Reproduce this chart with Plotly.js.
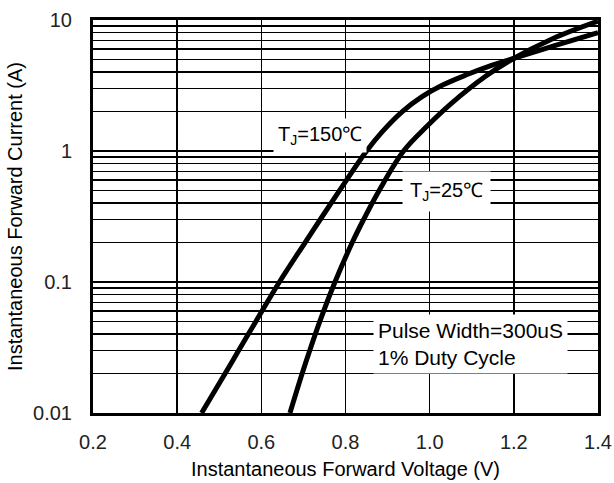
<!DOCTYPE html>
<html>
<head>
<meta charset="utf-8">
<script src="https://cdn.plot.ly/plotly-3.0.1.min.js"></script>
<style>html,body{margin:0;padding:0;background:#fff;}#chart{width:614px;height:483px;}</style>
</head>
<body>
<div id="chart"></div>
<script>
// Forward voltage (V) and forward current (A)
const v150 = [0.458, 0.514, 0.546, 0.587, 0.643, 0.704, 0.740, 0.786, 0.850, 0.887, 0.935, 0.982, 1.032, 1.086, 1.139, 1.192, 1.299, 1.40];
const i150 = [0.01, 0.02, 0.03, 0.05, 0.1, 0.2, 0.3, 0.5, 1.0, 1.4, 2.0, 2.6, 3.2, 3.8, 4.4, 5.0, 6.4, 8.0];
const v25 = [0.668, 0.697, 0.715, 0.739, 0.775, 0.816, 0.843, 0.880, 0.938, 0.994, 1.051, 1.132, 1.193, 1.292, 1.40];
const i25 = [0.01, 0.02, 0.03, 0.05, 0.1, 0.2, 0.3, 0.5, 1.0, 1.55, 2.3, 3.7, 4.95, 7.2, 9.8];
const yTickVals = [0.01, 0.1, 1, 10];
const yTickText = ['0.01', '0.1', '1', '10'];
const xTickVals = [0.2, 0.4, 0.6, 0.8, 1.0, 1.2, 1.4];
const xTickText = ['0.2', '0.4', '0.6', '0.8', '1.0', '1.2', '1.4'];
const label150 = 'T<sub>J</sub>=150℃';
const label25 = 'T<sub>J</sub>=25℃';
const noteText = 'Pulse Width=300uS<br>1% Duty Cycle';

const FONT = 'Liberation Sans, Arial, sans-serif';
const lineStyle = {color: '#000', width: 5, shape: 'spline', smoothing: 1};

const data = [
  {x: v150, y: i150, mode: 'lines', line: lineStyle, name: label150, hoverinfo: 'skip'},
  {x: v25, y: i25, mode: 'lines', line: lineStyle, name: label25, hoverinfo: 'skip'}
];

const layout = {
  width: 614, height: 483,
  margin: {l: 93, r: 16, t: 20, b: 70},
  paper_bgcolor: '#fff', plot_bgcolor: '#fff',
  showlegend: false,
  font: {family: FONT, size: 20, color: '#000'},
  xaxis: {
    range: [0.2, 1.4],
    tickvals: xTickVals, ticktext: xTickText,
    showgrid: true, gridcolor: '#000', gridwidth: 1.5,
    showline: true, linecolor: '#000', linewidth: 3, mirror: true,
    ticks: '', zeroline: false,
    ticklabelstandoff: 9,
    tickfont: {family: FONT, size: 20, color: '#222'},
    title: {text: 'Instantaneous Forward Voltage (V)', font: {family: FONT, size: 20, color: '#000'}, standoff: 10}
  },
  yaxis: {
    type: 'log', range: [-2, 1],
    tickvals: yTickVals, ticktext: yTickText,
    showgrid: true, gridcolor: '#000', gridwidth: 1.5,
    minor: {dtick: 'D1', showgrid: true, gridcolor: '#000', gridwidth: 1.5, ticks: ''},
    showline: true, linecolor: '#000', linewidth: 3, mirror: true,
    ticks: '', zeroline: false,
    ticklabelstandoff: 14,
    tickfont: {family: FONT, size: 20, color: '#222'},
    title: {text: 'Instantaneous Forward Current (A)', font: {family: FONT, size: 20, color: '#000'}, standoff: 6}
  },
  annotations: [
    {x: 0.740, y: Math.log10(1.32), xref: 'x', yref: 'y', text: label150, showarrow: false,
     bgcolor: '#fff', borderpad: 4, font: {family: FONT, size: 20, color: '#000'}},
    {x: 1.039, y: Math.log10(0.487), xref: 'x', yref: 'y', text: label25, showarrow: false,
     bgcolor: '#fff', borderpad: 7, font: {family: FONT, size: 20, color: '#000'}},
    {x: 1.096, y: Math.log10(0.0334), xref: 'x', yref: 'y', text: noteText, showarrow: false,
     align: 'left', bgcolor: '#fff', borderpad: 4, font: {family: FONT, size: 21, color: '#000'}}
  ]
};

Plotly.newPlot('chart', data, layout, {displayModeBar: false, staticPlot: true});
</script>
</body>
</html>
